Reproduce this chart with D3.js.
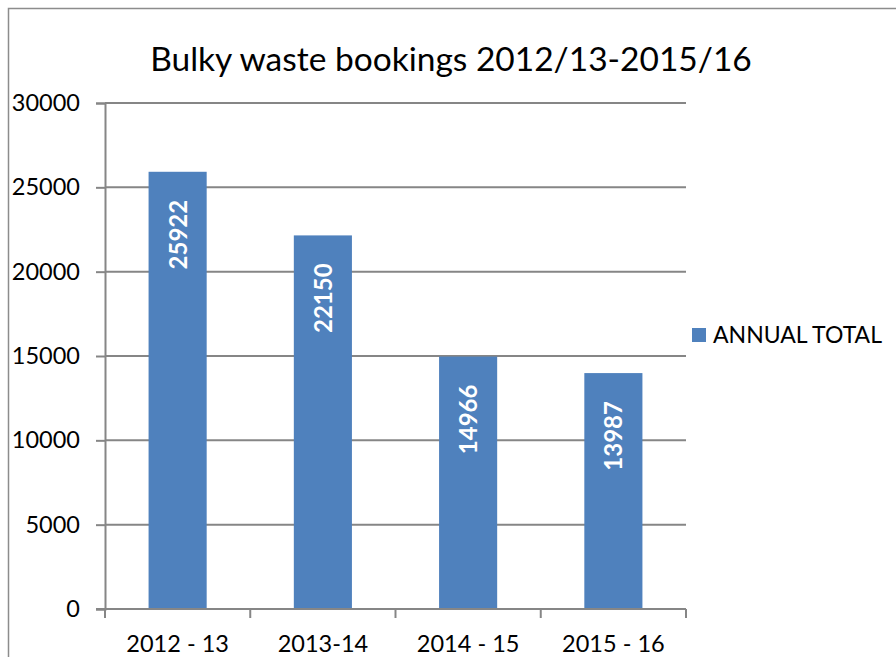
<!DOCTYPE html>
<html>
<head>
<meta charset="utf-8">
<script src="https://cdn.jsdelivr.net/npm/d3@7"></script>
<style>
  body { margin: 0; background: #fff; }
  text { font-family: Lato, "Open Sans", sans-serif; }
</style>
</head>
<body>
<div id="chart"></div>
<script>
// data
const categories = ["2012 - 13", "2013-14", "2014 - 15", "2015 - 16"]
const annualTotal = [25922, 22150, 14966, 13987]
const yTicks = [0, 5000, 10000, 15000, 20000, 25000, 30000]
const seriesName = "ANNUAL TOTAL"
const title = "Bulky waste bookings 2012/13-2015/16"

const config = {
    width: 896,
    height: 657,
    left: 105,
    right: 686,
    top: 103,
    bottom: 609,
    barColor: "#4F81BD",
    gridColor: "#868686"
}

const svg = d3.select("#chart")
    .append("svg")
    .attr("width", config.width)
    .attr("height", config.height)

// outer chart border (runs off the right/bottom of the picture)
svg.append("rect")
    .attr("x", 8.5).attr("y", 8.5)
    .attr("width", 1000).attr("height", 1000)
    .attr("fill", "none")
    .attr("stroke", "#8c8c8c")
    .attr("stroke-width", 1.5)

const x = d3.scaleBand()
    .domain(categories)
    .range([config.left, config.right])
    .paddingInner(0.6)
    .paddingOuter(0.3)

const y = d3.scaleLinear()
    .domain([0, 30000])
    .range([config.bottom, config.top])

// gridlines
svg.append("g")
    .selectAll("line")
    .data(yTicks.filter(d => d > 0))
    .enter()
    .append("line")
    .attr("x1", config.left).attr("x2", config.right)
    .attr("y1", d => y(d)).attr("y2", d => y(d))
    .attr("stroke", config.gridColor)
    .attr("stroke-width", 2)

// y axis
const yAxis = svg.append("g")
    .attr("transform", `translate(${config.left},0)`)
    .call(d3.axisLeft(y).tickValues(yTicks).tickSize(9).tickPadding(16).tickFormat(d3.format("d")))
yAxis.select(".domain").attr("stroke", config.gridColor).attr("stroke-width", 2)
yAxis.selectAll(".tick line").attr("stroke", config.gridColor).attr("stroke-width", 2)
yAxis.selectAll(".tick text").attr("font-size", 23.5).attr("fill", "#000")
    .style("font-family", "Lato")

// bars
svg.append("g")
    .selectAll("rect")
    .data(annualTotal)
    .enter()
    .append("rect")
    .attr("x", (d, i) => x(categories[i]))
    .attr("y", d => y(d))
    .attr("width", x.bandwidth())
    .attr("height", d => config.bottom - y(d))
    .attr("fill", config.barColor)

// value labels inside the bars, rotated
svg.append("g")
    .selectAll("text")
    .data(annualTotal)
    .enter()
    .append("text")
    .attr("transform", (d, i) => `translate(${x(categories[i]) + x.bandwidth() / 2 + 9},${y(d) + 28}) rotate(-90)`)
    .attr("text-anchor", "end")
    .attr("font-size", 24)
    .attr("font-weight", "bold")
    .attr("fill", "#fff")
    .style("font-family", "Lato")
    .text(d => d)

// x axis
const xAxis = svg.append("g")
    .attr("transform", `translate(0,${config.bottom})`)
    .call(d3.axisBottom(x).tickSize(0).tickPadding(26))
xAxis.select(".domain").attr("stroke", config.gridColor).attr("stroke-width", 2)
    .attr("d", `M${config.left - 9},0H${config.right}`)
xAxis.selectAll(".tick text").attr("font-size", 23.5).attr("fill", "#000")
    .attr("dy", "0.71em").style("font-family", "Lato")

// category boundary ticks
const bounds = categories.map(c => x(c) - x.step() * x.paddingInner() / 2)
bounds[0] = config.left
bounds.push(config.right)
svg.append("g")
    .selectAll("line")
    .data(bounds)
    .enter()
    .append("line")
    .attr("x1", d => d).attr("x2", d => d)
    .attr("y1", config.bottom).attr("y2", config.bottom + 9)
    .attr("stroke", config.gridColor)
    .attr("stroke-width", 2)

// title
svg.append("text")
    .attr("x", 451).attr("y", 71)
    .attr("text-anchor", "middle")
    .attr("font-size", 33.5)
    .attr("fill", "#000")
    .style("font-family", "Lato")
    .text(title)

// legend
const legend = svg.append("g").attr("transform", "translate(692,328)")
legend.append("rect").attr("width", 14).attr("height", 14).attr("fill", config.barColor)
legend.append("text")
    .attr("x", 21).attr("y", 7).attr("dy", "0.35em")
    .attr("font-size", 23)
    .attr("fill", "#000")
    .style("font-family", "Lato")
    .text(seriesName)
</script>
</body>
</html>
